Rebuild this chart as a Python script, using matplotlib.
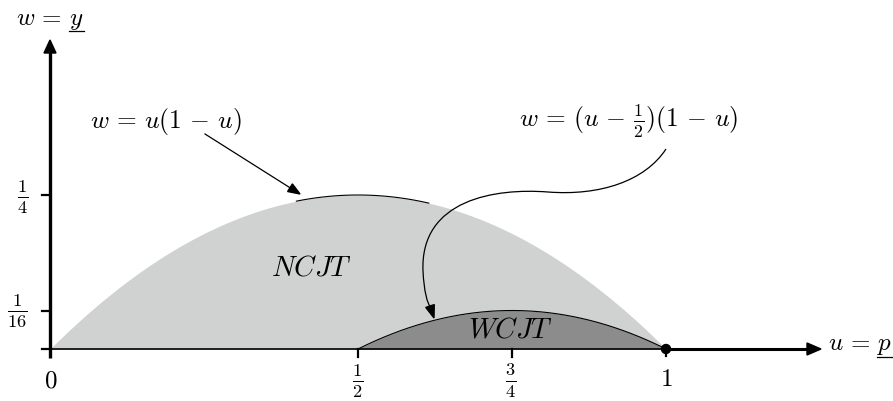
import numpy as np
import matplotlib
matplotlib.use("Agg")
import matplotlib.pyplot as plt
from matplotlib.patches import Polygon, Circle, PathPatch
from matplotlib.path import Path

plt.rcParams['mathtext.fontset'] = 'cm'
plt.rcParams['font.family'] = ['DejaVu Sans']

# ---- data ----
x_ticks = [0.0, 0.5, 0.75, 1.0]
x_tick_labels = [r'$0$', r'$\frac{1}{2}$', r'$\frac{3}{4}$', r'$1$']
y_ticks = [0.0, 1/16, 1/4]
y_tick_labels = ['', r'$\frac{1}{16}$', r'$\frac{1}{4}$']
region_names = [r'$NCJT$', r'$WCJT$']
curve_labels = [r'$w\,=\,u(1\,-\,u)$', r'$w\,=\,(u\,-\,\frac{1}{2})(1\,-\,u)$']
axis_labels = [(r'$w\,=\,y$', r'$y$'), (r'$u\,=\,p$', r'$p$')]
ncjt_domain = [0.0, 1.0]
wcjt_domain = [0.5, 1.0]

def ncjt_upper(u):
    return u * (1 - u)

def wcjt_upper(u):
    return (u - 0.5) * (1 - u)

# ---- layout helpers (pixel -> data) ----
X0, Y0, S = 50.0, 350.0, 616.0
W, H = 893, 402
def P(px, py):
    return ((px - X0) / S, (Y0 - py) / S)

fig = plt.figure(figsize=(8.93, 4.02), dpi=100)
ax = fig.add_axes([0, 0, 1, 1])
ax.set_xlim(P(0, 0)[0], P(W, 0)[0])
ax.set_ylim(P(0, H)[1], P(0, 0)[1])
ax.axis('off')

LIGHT = '#d0d2d2'
DARK = '#8c8c8c'

u1 = np.linspace(ncjt_domain[0], ncjt_domain[1], 400)
ax.fill_between(u1, 0, ncjt_upper(u1), color=LIGHT, lw=0, zorder=1)
u2 = np.linspace(wcjt_domain[0], wcjt_domain[1], 300)
ax.fill_between(u2, 0, wcjt_upper(u2), color=DARK, lw=0, zorder=2)
ax.plot(u2, wcjt_upper(u2), color='black', lw=0.8, zorder=3)
u3 = np.linspace(0.40, 0.615, 100)
ax.plot(u3, ncjt_upper(u3), color='black', lw=0.8, zorder=3)

# axes lines
ax.plot([0, 0], [P(0, 359)[1], P(0, 52)[1]], color='black', lw=2.4, zorder=5, solid_capstyle='butt')
ax.plot([0, 1], [0, 0], color='black', lw=1.2, zorder=5)
ax.plot([1, P(810, 0)[0]], [0, 0], color='black', lw=2.2, zorder=5)

def head(tip, base_c, half_w):
    tx, ty = tip
    bx, by = base_c
    dx, dy = tx - bx, ty - by
    L = np.hypot(dx, dy)
    nx, ny = -dy / L, dx / L
    pts = [P(tx, ty), P(bx + nx * half_w, by + ny * half_w), P(bx - nx * half_w, by - ny * half_w)]
    ax.add_patch(Polygon(pts, closed=True, color='black', zorder=6))

head((50, 41), (50, 54), 6)
head((821, 350), (807, 350), 6)

# ticks
for yv in y_ticks:
    ax.plot([P(42, 0)[0], 0], [yv, yv], color='black', lw=1.6, zorder=5)
for xv in x_ticks[1:3]:
    ax.plot([xv, xv], [0, P(0, 358)[1]], color='black', lw=1.6, zorder=5)
ax.plot([1, 1], [0, P(0, 357)[1]], color='black', lw=1.6, zorder=5)
ax.add_patch(Circle((1, 0), 4.5 / S, color='black', zorder=7))

# tick labels
tick_px = {0.0: (51, 381), 0.5: (358, 381), 0.75: (511, 381), 1.0: (666, 379)}
tick_fs = {0.0: 18, 0.5: 19, 0.75: 19, 1.0: 18}
for xv, lab in zip(x_ticks, x_tick_labels):
    px, py = tick_px[xv]
    ax.text(*P(px, py), lab, ha='center', va='center', fontsize=tick_fs[xv], zorder=8)
ytick_px = {1/16: (17, 311), 1/4: (23, 197)}
for yv, lab in zip(y_ticks, y_tick_labels):
    if lab:
        px, py = ytick_px[yv]
        ax.text(*P(px, py), lab, ha='center', va='center', fontsize=19, zorder=8)

# axis labels (underlined last letter)
label_pos = [((16, 25), 32), ((828, 350), 358)]
texts = []
for (full, last), ((px, py), uy) in zip(axis_labels, label_pos):
    t = ax.text(*P(px, py), full, ha='left', va='baseline', fontsize=18)
    tl = ax.text(*P(px, py), last, ha='left', va='baseline', fontsize=18, alpha=0)
    texts.append((t, tl, uy))
fig.canvas.draw()
inv = ax.transData.inverted()
for t, tl, uy in texts:
    bb = t.get_window_extent()
    bl = tl.get_window_extent()
    xb = bb.x1
    xa = bb.x1 - bl.width
    ax.plot([inv.transform((xa, 0))[0], inv.transform((xb, 0))[0]], [P(0, uy)[1]] * 2,
            color='black', lw=0.9)

# region names
ax.text(*P(312, 268), region_names[0], ha='center', va='center', fontsize=20.5, zorder=8)
ax.text(*P(511, 330), region_names[1], ha='center', va='center', fontsize=20.5, zorder=8)

# curve labels
ax.text(*P(90, 128), curve_labels[0], ha='left', va='baseline', fontsize=18.3)
ax.text(*P(519, 128), curve_labels[1], ha='left', va='baseline', fontsize=18.3)

# straight arrow
ax.plot([P(205, 135)[0], P(292, 190)[0]], [P(205, 135)[1], P(292, 190)[1]], color='black', lw=0.9)
head((300, 195), (290, 188.7), 4.5)

# curved arrow
verts_px = [(666, 150), (645, 182), (600, 197), (548, 193),
            (496, 189), (420, 200), (423, 272),
            (424, 292), (427, 304), (431, 309)]
codes = [Path.MOVETO, Path.CURVE4, Path.CURVE4, Path.CURVE4,
         Path.CURVE4, Path.CURVE4, Path.CURVE4,
         Path.CURVE4, Path.CURVE4, Path.CURVE4]
path = Path([P(*v) for v in verts_px], codes)
ax.add_patch(PathPatch(path, fill=False, color='black', lw=0.9, zorder=4))
head((434, 319), (430, 307), 4.5)

fig.savefig('out.png', dpi=100)
